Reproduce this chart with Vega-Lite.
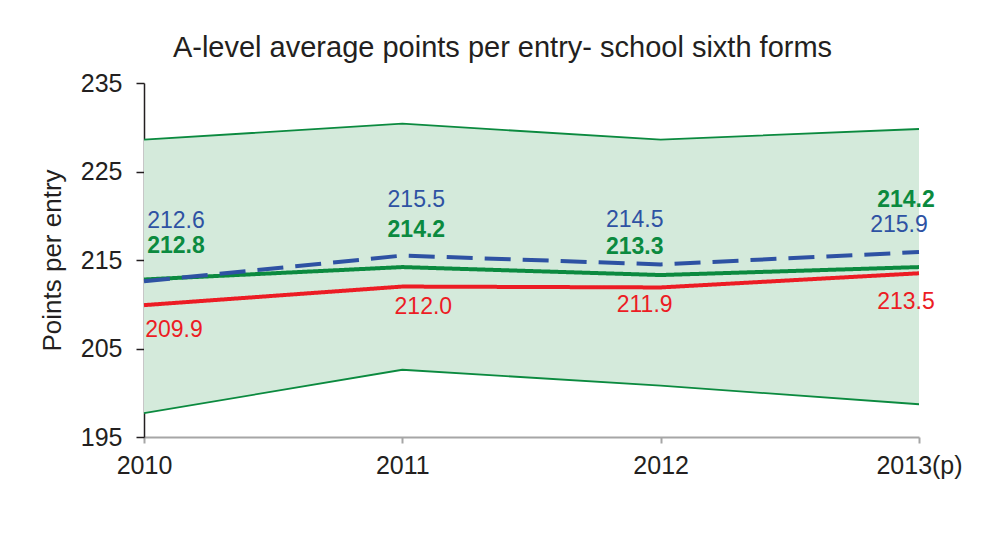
{
  "$schema": "https://vega.github.io/schema/vega-lite/v6.json",
  "width": 775,
  "height": 354,
  "autosize": {"type": "none"},
  "padding": {"left": 144, "top": 83, "right": 89, "bottom": 98},
  "background": "white",
  "title": {
    "text": "A-level average points per entry- school sixth forms",
    "fontSize": 29,
    "font": "Liberation Sans",
    "fontWeight": "normal",
    "color": "#231f20",
    "anchor": "middle",
    "dx": -29,
    "offset": 8
  },
  "config": {
    "view": {"stroke": null},
    "font": "Liberation Sans",
    "axis": {"grid": false, "labelFont": "Liberation Sans", "titleFont": "Liberation Sans", "labelColor": "#231f20", "titleColor": "#231f20"}
  },
  "datasets": {
    "band": [
      {"year": "2010", "upper": 228.6, "lower": 197.7},
      {"year": "2011", "upper": 230.4, "lower": 202.6},
      {"year": "2012", "upper": 228.6, "lower": 200.8},
      {"year": "2013(p)", "upper": 229.8, "lower": 198.7}
    ],
    "main": [
      {"year": "2010", "series": "A", "value": 212.8},
      {"year": "2011", "series": "A", "value": 214.2},
      {"year": "2012", "series": "A", "value": 213.3},
      {"year": "2013(p)", "series": "A", "value": 214.2},
      {"year": "2010", "series": "B", "value": 212.6},
      {"year": "2011", "series": "B", "value": 215.5},
      {"year": "2012", "series": "B", "value": 214.5},
      {"year": "2013(p)", "series": "B", "value": 215.9},
      {"year": "2010", "series": "C", "value": 209.9},
      {"year": "2011", "series": "C", "value": 212.0},
      {"year": "2012", "series": "C", "value": 211.9},
      {"year": "2013(p)", "series": "C", "value": 213.5}
    ]
  },
  "encoding": {
    "x": {
      "field": "year",
      "type": "ordinal",
      "sort": ["2010", "2011", "2012", "2013(p)"],
      "scale": {"type": "point", "padding": 0, "domain": ["2010", "2011", "2012", "2013(p)"]},
      "axis": {
        "title": null,
        "labelAngle": 0,
        "labelFontSize": 25,
        "labelPadding": 10,
        "domainColor": "#a6a6a6",
        "domainWidth": 2,
        "tickColor": "#a6a6a6",
        "tickWidth": 2,
        "tickSize": 6
      }
    }
  },
  "layer": [
    {
      "data": {"name": "band"},
      "mark": {"type": "area", "color": "#d4eadb", "opacity": 1},
      "encoding": {
        "y": {
          "field": "upper",
          "type": "quantitative",
          "scale": {"domain": [195, 235], "nice": false, "zero": false},
          "axis": {
            "title": "Points per entry",
            "titleFontSize": 26,
            "titleFontWeight": "normal",
            "titlePadding": 15,
            "values": [195, 205, 215, 225, 235],
            "labelFontSize": 25,
            "labelPadding": 14,
            "domainColor": "#231f20",
            "domainWidth": 1.5,
            "tickColor": "#231f20",
            "tickWidth": 1.5,
            "tickSize": 8
          }
        },
        "y2": {"field": "lower"}
      }
    },
    {
      "data": {"name": "band"},
      "mark": {"type": "line", "color": "#0b8a3f", "strokeWidth": 1.8},
      "encoding": {"y": {"field": "upper", "type": "quantitative"}}
    },
    {
      "data": {"name": "band"},
      "mark": {"type": "line", "color": "#0b8a3f", "strokeWidth": 1.8},
      "encoding": {"y": {"field": "lower", "type": "quantitative"}}
    },
    {
      "data": {"name": "main"},
      "mark": {"type": "line", "strokeWidth": 4},
      "encoding": {
        "y": {"field": "value", "type": "quantitative"},
        "color": {"field": "series", "type": "nominal", "scale": {"domain": ["C", "A", "B"], "range": ["#ec1c24", "#0b8a3f", "#2e52a3"]}, "legend": null},
        "strokeDash": {"field": "series", "type": "nominal", "scale": {"domain": ["C", "A", "B"], "range": [[1, 0], [1, 0], [26, 12]]}, "legend": null},
        "order": {"field": "series"}
      }
    },
    {
      "data": {"name": "main"},
      "mark": {
        "type": "text",
        "fontSize": 23,
        "baseline": "middle",
        "align": "center",
        "fontWeight": {"expr": "datum.series === 'A' ? 'bold' : 'normal'"},
        "dx": {"expr": "datum.series === 'A' ? (datum.year === '2010' ? 32 : datum.year === '2011' ? 14 : datum.year === '2012' ? -26 : -13) : datum.series === 'B' ? (datum.year === '2010' ? 32 : datum.year === '2011' ? 14 : datum.year === '2012' ? -26 : -20) : (datum.year === '2010' ? 30 : datum.year === '2011' ? 21 : datum.year === '2012' ? -16 : -13)"},
        "dy": {"expr": "datum.series === 'A' ? (datum.year === '2010' ? -33 : datum.year === '2011' ? -37 : datum.year === '2012' ? -28 : -67) : datum.series === 'B' ? (datum.year === '2010' ? -60 : datum.year === '2011' ? -56 : datum.year === '2012' ? -44 : -27) : (datum.year === '2010' ? 25 : datum.year === '2011' ? 20 : datum.year === '2012' ? 18 : 29)"}
      },
      "encoding": {
        "y": {"field": "value", "type": "quantitative"},
        "text": {"field": "value", "type": "quantitative", "format": ".1f"},
        "color": {"field": "series", "type": "nominal", "scale": {"domain": ["C", "A", "B"], "range": ["#ec1c24", "#0b8a3f", "#2e52a3"]}, "legend": null}
      }
    }
  ]
}
